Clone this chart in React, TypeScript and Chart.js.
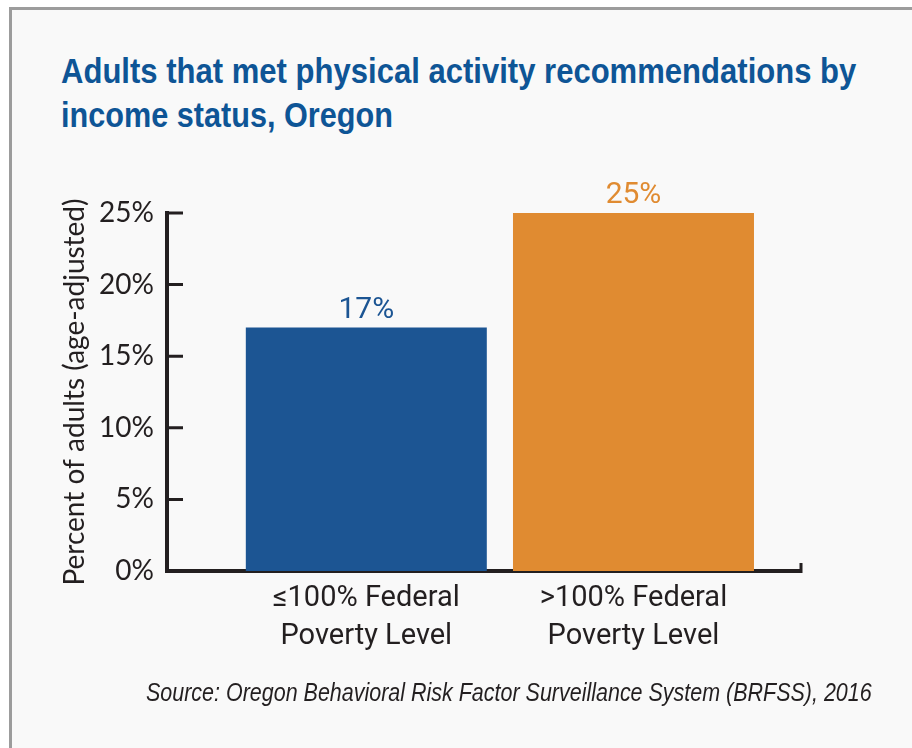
import React, { useEffect, useRef } from "react";
import { Chart, registerables } from "chart.js";

Chart.register(...registerables);

// ---- data ----
const categories: string[][] = [
  ["≤100% Federal", "Poverty Level"],
  [">100% Federal", "Poverty Level"],
];
const values: number[] = [17, 25];
const barColors: string[] = ["#1c5593", "#e08b31"];
const yTicks: number[] = [0, 5, 10, 15, 20, 25];
const titleLines: string[] = [
  "Adults that met physical activity recommendations by",
  "income status, Oregon",
];
const yAxisTitle = "Percent of adults (age-adjusted)";
const sourceText =
  "Source: Oregon Behavioral Risk Factor Surveillance System (BRFSS), 2016";

// ---- styles ----
const SANS = "'Liberation Sans', Arial, sans-serif";
const ROBOTO = "Roboto, 'Liberation Sans', sans-serif";
const LATO = "Lato, 'Open Sans', sans-serif";
const INK = "#231f20";
const TITLE_BLUE = "#0e5596";
const titleLineScale = [0.887, 0.875];

const axisDecor = {
  id: "axisDecor",
  afterDraw(chart: any) {
    const { ctx, chartArea, scales } = chart;
    const y = scales.y;
    ctx.save();
    ctx.strokeStyle = INK;
    ctx.lineWidth = 3;
    ctx.beginPath();
    y.ticks.forEach((t: any) => {
      const py = y.getPixelForValue(t.value);
      ctx.moveTo(chartArea.left, py);
      ctx.lineTo(chartArea.left + 16, py);
    });
    ctx.moveTo(chartArea.right, chartArea.bottom + 2);
    ctx.lineTo(chartArea.right, chartArea.bottom - 8);
    ctx.stroke();
    ctx.restore();
  },
};

const dataLabels = {
  id: "dataLabels",
  afterDatasetsDraw(chart: any) {
    const { ctx } = chart;
    const meta = chart.getDatasetMeta(0);
    ctx.save();
    ctx.font = `30px ${ROBOTO}`;
    ctx.textAlign = "center";
    ctx.textBaseline = "alphabetic";
    meta.data.forEach((bar: any, i: number) => {
      ctx.fillStyle = barColors[i];
      ctx.fillText(`${values[i]}%`, bar.x, bar.y - 10);
    });
    ctx.restore();
  },
};

export default function App() {
  const canvasRef = useRef<HTMLCanvasElement | null>(null);

  useEffect(() => {
    if (!canvasRef.current) return;
    const chart = new Chart(canvasRef.current, {
      type: "bar",
      data: {
        datasets: [
          {
            data: values.map((v, i) => ({ x: i, y: v })) as any,
            backgroundColor: barColors,
            borderWidth: 0,
            categoryPercentage: 1,
            barPercentage: 0.902,
          },
        ],
      },
      options: {
        responsive: false,
        animation: false,
        devicePixelRatio: 1,
        layout: { padding: { left: 61, top: 213, right: 111, bottom: 77 } },
        plugins: {
          legend: { display: false },
          tooltip: { enabled: false },
          title: { display: false },
        },
        scales: {
          x: {
            type: "linear",
            offset: false,
            min: -0.746,
            max: 1.627,
            afterBuildTicks: (s: any) => {
              s.ticks = categories.map((_, i) => ({ value: i }));
            },
            afterFit: (s: any) => {
              s.height = 100;
            },
            ticks: {
              callback: (v: any) => categories[v as number],
              font: { family: ROBOTO, size: 29, lineHeight: 38 / 29 },
              color: INK,
              padding: 9,
              maxRotation: 0,
              minRotation: 0,
              autoSkip: false,
            },
            grid: { display: false, drawTicks: false, offset: false },
            border: { display: true, color: INK, width: 4 },
          },
          y: {
            min: 0,
            max: 25,
            afterBuildTicks: (s: any) => {
              s.ticks = yTicks.map((v) => ({ value: v }));
            },
            afterFit: (s: any) => {
              s.width = 106;
            },
            ticks: {
              callback: (v: any) => `${v}%`,
              font: { family: LATO, size: 28 },
              color: INK,
              padding: 13,
            },
            grid: { display: false, drawTicks: false },
            border: { display: true, color: INK, width: 4 },
            title: {
              display: true,
              text: yAxisTitle,
              font: { family: LATO, size: 28, lineHeight: 1 },
              color: INK,
              padding: { top: 0, bottom: 0 },
            },
          },
        },
      } as any,
      plugins: [axisDecor, dataLabels],
    });
    return () => chart.destroy();
  }, []);

  return (
    <div
      style={{
        position: "fixed",
        left: 0,
        top: 0,
        width: 912,
        height: 748,
        background: "#ffffff",
        overflow: "hidden",
      }}
    >
      <div
        style={{
          position: "absolute",
          left: 9,
          top: 7,
          width: 912,
          height: 760,
          boxSizing: "border-box",
          borderTop: "3px solid #9c9c9c",
          borderLeft: "3px solid #9c9c9c",
          background: "#f9f9f9",
        }}
      />
      <div
        style={{
          position: "absolute",
          left: 61,
          top: 49,
          fontFamily: SANS,
          fontWeight: 700,
          fontSize: 35,
          lineHeight: "44px",
          color: TITLE_BLUE,
          whiteSpace: "nowrap",
        }}
      >
        {titleLines.map((l, i) => (
          <div
            key={l}
            style={{
              transform: `scaleX(${titleLineScale[i]})`,
              transformOrigin: "left center",
            }}
          >
            {l}
          </div>
        ))}
      </div>
      <canvas
        ref={canvasRef}
        width={912}
        height={748}
        style={{ position: "absolute", left: 0, top: 0, width: 912, height: 748 }}
      />
      <div
        style={{
          position: "absolute",
          left: 146,
          top: 677,
          fontFamily: SANS,
          fontStyle: "italic",
          fontSize: 26,
          lineHeight: "30px",
          color: INK,
          whiteSpace: "nowrap",
          transform: "scaleX(0.826)",
          transformOrigin: "left center",
        }}
      >
        {sourceText}
      </div>
    </div>
  );
}
